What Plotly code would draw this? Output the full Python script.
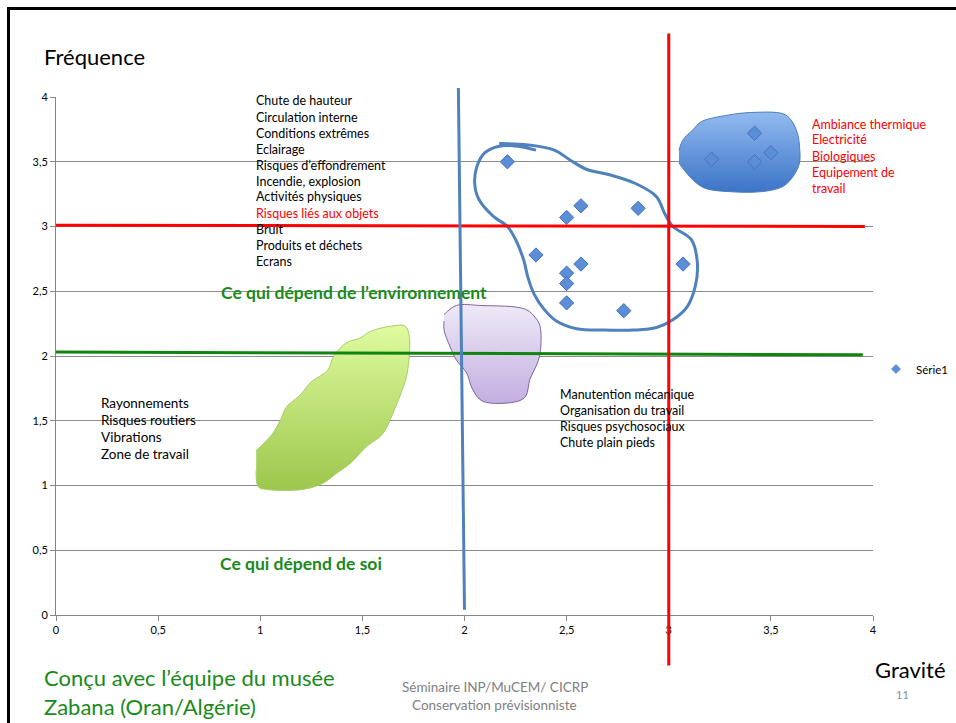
import plotly.graph_objects as go

# Série1 : points (gravité, fréquence)
gravite = [2.21, 2.57, 2.5, 2.85, 2.35, 2.57, 2.5, 2.5, 3.07, 2.5, 2.78, 3.42, 3.21, 3.42, 3.5]
frequence = [3.5, 3.16, 3.07, 3.14, 2.78, 2.71, 2.64, 2.56, 2.71, 2.41, 2.35, 3.72, 3.52, 3.5, 3.57]

# hand drawn zones (data units)
green_zone_x = [0.98, 1.06, 1.10, 1.13, 1.19, 1.25, 1.33, 1.36, 1.42, 1.49, 1.54, 1.64, 1.71, 1.73,
                1.72, 1.70, 1.65, 1.60, 1.52, 1.44, 1.37, 1.31, 1.21, 1.03, 0.99, 0.98]
green_zone_y = [1.27, 1.40, 1.51, 1.61, 1.69, 1.80, 1.89, 2.00, 2.10, 2.14, 2.19, 2.23, 2.23, 2.15,
                1.87, 1.76, 1.56, 1.40, 1.30, 1.17, 1.09, 1.02, 0.97, 0.97, 0.99, 1.12]

purple_zone_x = [1.90, 1.96, 2.08, 2.30, 2.35, 2.37, 2.37, 2.35, 2.32, 2.30, 2.26, 2.09, 2.04,
                 2.01, 1.96, 1.93, 1.90, 1.90]
purple_zone_y = [2.32, 2.39, 2.39, 2.36, 2.29, 2.23, 2.02, 1.92, 1.82, 1.69, 1.65, 1.65, 1.74,
                 1.87, 1.97, 2.07, 2.20, 2.27]

blue_zone_x = [3.05, 3.07, 3.12, 3.16, 3.29, 3.40, 3.56, 3.60, 3.63, 3.64, 3.64, 3.61, 3.56,
               3.46, 3.29, 3.17, 3.10, 3.05]
blue_zone_y = [3.59, 3.67, 3.75, 3.81, 3.86, 3.88, 3.87, 3.82, 3.72, 3.62, 3.49, 3.39, 3.31,
               3.27, 3.27, 3.30, 3.39, 3.49]

loop_x = [2.35, 2.26, 2.17, 2.10, 2.06, 2.05, 2.07, 2.14, 2.21, 2.25, 2.29, 2.31, 2.34, 2.39,
          2.45, 2.55, 2.68, 2.83, 2.94, 3.02, 3.09, 3.13, 3.14, 3.11, 3.02, 2.98, 2.94, 2.84,
          2.71, 2.60, 2.52, 2.44, 2.31, 2.17]
loop_y = [3.59, 3.62, 3.62, 3.57, 3.46, 3.33, 3.21, 3.08, 3.00, 2.90, 2.74, 2.61, 2.48, 2.36,
          2.27, 2.21, 2.20, 2.20, 2.22, 2.28, 2.38, 2.54, 2.72, 2.90, 3.00, 3.10, 3.23, 3.33,
          3.40, 3.44, 3.51, 3.59, 3.63, 3.64]

# separation lines (data units)
red_h_x, red_h_y = [0, 3.96], [3.01, 3.0]
green_h_x, green_h_y = [0, 3.95], [2.03, 2.01]
blue_v_x, blue_v_y = [1.97, 2.0], [4.07, 0.04]
red_v_x, red_v_y = [3.0, 3.0], [4.49, -0.39]

risques_haut = ["Chute de hauteur", "Circulation interne", "Conditions extrêmes", "Eclairage",
                "Risques d’effondrement", "Incendie, explosion", "Activités physiques",
                "Risques liés aux objets", "Bruit", "Produits et déchets", "Ecrans"]
risques_rouges = ["Ambiance thermique", "Electricité", "Biologiques", "Equipement de", "travail"]
risques_milieu = ["Manutention mécanique", "Organisation du travail", "Risques psychosociaux",
                  "Chute plain pieds"]
risques_bas = ["Rayonnements", "Risques routiers", "Vibrations", "Zone de travail"]

X_RANGE = [0, 4]
Y_RANGE = [0, 4]
W, H = 956, 723
ML, MR, MT, MB = 56, 83, 97, 108
FONT = "Lato"
GREEN = "#1a8a1a"
MARKER_BLUE = "#5b8ed6"


def dom_x(v):
    return (v - X_RANGE[0]) / (X_RANGE[1] - X_RANGE[0])


def dom_y(v):
    return (v - Y_RANGE[0]) / (Y_RANGE[1] - Y_RANGE[0])


def paper_x(px):
    return (px - ML) / (W - ML - MR)


def paper_y(py):
    return (H - MB - py) / (H - MT - MB)


fig = go.Figure()

fig.add_trace(go.Scatter(x=green_zone_x, y=green_zone_y, fill="toself", mode="lines",
                         line=dict(color="#a6cf66", width=1, shape="spline"),
                         fillgradient=dict(type="vertical",
                                           colorscale=[[0, "#9cc64c"], [1, "#e0fba0"]]),
                         showlegend=False, hoverinfo="skip"))
fig.add_trace(go.Scatter(x=purple_zone_x, y=purple_zone_y, fill="toself", mode="lines",
                         line=dict(color="#8064a2", width=1, shape="spline"),
                         fillgradient=dict(type="vertical",
                                           colorscale=[[0, "#c2aee0"], [1, "#efe9f7"]]),
                         showlegend=False, hoverinfo="skip"))
fig.add_trace(go.Scatter(x=blue_zone_x, y=blue_zone_y, fill="toself", mode="lines",
                         line=dict(color="#4a7ebb", width=1, shape="spline"),
                         fillgradient=dict(type="vertical",
                                           colorscale=[[0, "#3c74c6"], [1, "#92baf0"]]),
                         showlegend=False, hoverinfo="skip"))
fig.add_trace(go.Scatter(x=loop_x, y=loop_y, mode="lines",
                         line=dict(color="#4f81bd", width=3, shape="spline"),
                         showlegend=False, hoverinfo="skip"))

fig.add_trace(go.Scatter(x=gravite, y=frequence, mode="markers", name="Série1",
                         legendgroup="s1", showlegend=False,
                         marker=dict(symbol="diamond", size=11, color=MARKER_BLUE,
                                     line=dict(color="#4475bb", width=1))))
# legend entry with the small symbol used by the original chart
fig.add_trace(go.Scatter(x=[None], y=[None], mode="markers", name="Série1", legendgroup="s1",
                         marker=dict(symbol="diamond", size=7, color=MARKER_BLUE,
                                     line=dict(color="#4475bb", width=0.5))))

# lines drawn over the chart, not clipped to the plot area
for xs, ys, col in [(red_h_x, red_h_y, "#ff0000"), (green_h_x, green_h_y, "#0f850f"),
                    (blue_v_x, blue_v_y, "#4f81bd"), (red_v_x, red_v_y, "#ff0000")]:
    fig.add_shape(type="line", xref="x domain", yref="y domain",
                  x0=dom_x(xs[0]), y0=dom_y(ys[0]), x1=dom_x(xs[1]), y1=dom_y(ys[1]),
                  line=dict(color=col, width=3), layer="above")

# slide frame
fig.add_shape(type="line", xref="paper", yref="paper", x0=paper_x(8.5), x1=paper_x(8.5),
              y0=paper_y(7), y1=paper_y(723), line=dict(color="black", width=3))
fig.add_shape(type="line", xref="paper", yref="paper", x0=paper_x(7), x1=paper_x(956),
              y0=paper_y(8.5), y1=paper_y(8.5), line=dict(color="black", width=3))


def text(s, px, py, size=12.5, color="black", anchor="left"):
    fig.add_annotation(text=s, x=paper_x(px), y=paper_y(py), xref="paper", yref="paper",
                       xanchor=anchor, yanchor="middle", showarrow=False,
                       font=dict(family=FONT, size=size, color=color))


for i, s in enumerate(risques_haut):
    text(s, 254, 101 + 16 * i, color="#ff0000" if s == "Risques liés aux objets" else "black")
for i, s in enumerate(risques_rouges):
    text(s, 810, 124 + 16 * i, color="#ff0000")
for i, s in enumerate(risques_milieu):
    text(s, 558, 394 + 16 * i)
for i, s in enumerate(risques_bas):
    text(s, 99, 403 + 17 * i, size=13.5)

text("<b>Ce qui dépend de l’environnement</b>", 219, 292, size=17.5, color=GREEN)
text("<b>Ce qui dépend de soi</b>", 218, 563, size=17.5, color=GREEN)
text("Fréquence", 42, 57, size=22)
text("Gravité", 873, 669, size=22)
text("Conçu avec l’équipe du musée", 42, 677, size=22, color=GREEN)
text("Zabana (Oran/Algérie)", 42, 706, size=22, color=GREEN)
text("Séminaire INP/MuCEM/ CICRP", 495, 687, size=13.5, color="#808080", anchor="center")
text("Conservation prévisionniste", 495, 705, size=13.5, color="#808080", anchor="center")
text("11", 902, 694, size=11, color="#8c8c8c", anchor="center")

fig.update_layout(
    width=W, height=H,
    margin=dict(l=ML, r=MR, t=MT, b=MB, autoexpand=False),
    paper_bgcolor="white", plot_bgcolor="white",
    separators=", ",
    font=dict(family=FONT, size=11, color="black"),
    showlegend=True,
    legend=dict(x=paper_x(876), y=paper_y(369), xanchor="left", yanchor="middle",
                font=dict(size=11.5), bgcolor="rgba(0,0,0,0)", itemsizing="trace"),
    xaxis=dict(range=X_RANGE, dtick=0.5, showgrid=False, zeroline=False,
               showline=True, linecolor="#868686", linewidth=1,
               ticks="outside", ticklen=5, tickcolor="#868686"),
    yaxis=dict(range=Y_RANGE, dtick=0.5, showgrid=True, gridcolor="#8c8c8c", gridwidth=1,
               zeroline=False, showline=True, linecolor="#868686", linewidth=1,
               ticks="outside", ticklen=5, tickcolor="#868686"),
)

fig.write_html("out.html", config={"displayModeBar": False},
               post_script="document.body.style.margin = '0';")
